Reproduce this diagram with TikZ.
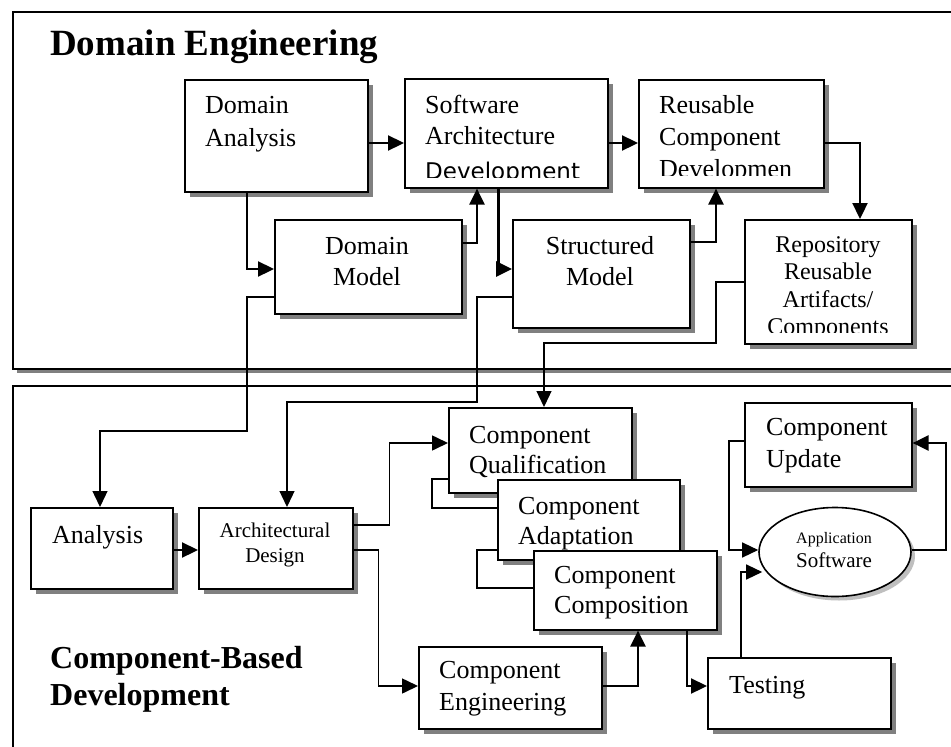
\documentclass[tikz,border=0pt]{standalone}
\usepackage{fontspec}
\setmainfont{Liberation Serif}
\newfontfamily\dejavu{DejaVu Sans}
\usetikzlibrary{arrows.meta,shadows,shapes.geometric}
\newcommand\myfs[1]{\fontsize{#1}{#1}\selectfont}
\tikzset{
  box/.style={draw, line width=1.6pt, fill=white, inner sep=0pt, anchor=north west,
    drop shadow={shadow xshift=5pt, shadow yshift=-5pt, fill=black!50, opacity=1}},
  outer/.style={draw, line width=1.8pt, fill=white, inner sep=0pt, anchor=north west,
    drop shadow={shadow xshift=4pt, shadow yshift=-4pt, fill=black!50, opacity=1}},
  tl/.style={inner sep=0pt, anchor=base west, font=\myfs{26}},
  tc/.style={inner sep=0pt, anchor=base, font=\myfs{26}},
  arr/.style={-{Triangle[length=16pt,width=15pt]}},
  thk/.style={line width=2.3pt},
  med/.style={line width=1.6pt},
  thn/.style={line width=1.3pt},
}
\begin{document}
\begin{tikzpicture}[x=1pt,y=-1pt]
\useasboundingbox (0,0) rectangle (951,747);
\fill[white] (0,0) rectangle (951,747);
\clip (0,0) rectangle (951,747);

% outer frames
\node[outer, minimum width=980pt, minimum height=357pt] (topf) at (12,11) {};
\node[outer, minimum width=980pt, minimum height=400pt] (botf) at (12,385) {};

\node[inner sep=0pt, anchor=base west, font=\myfs{37}\bfseries] (ttl1) at (50,55) {Domain Engineering};
\node[inner sep=0pt, anchor=base west, font=\myfs{32}\bfseries] (ttl2) at (50,668) {Component-Based};
\node[inner sep=0pt, anchor=base west, font=\myfs{32}\bfseries] (ttl3) at (50,705) {Development};

% ---- Domain engineering boxes
\node[box, minimum width=183pt, minimum height=112pt] (da) at (184,79) {};
\node[tl] (da1) at (205,113) {Domain};
\node[tl] (da2) at (205,146) {Analysis};

\node[box, minimum width=203pt, minimum height=109pt] (sad) at (404,78) {};
\node[tl] (sad1) at (425,113) {Software};
\node[tl] (sad2) at (425,144) {Architecture};
\begin{scope}
\clip (410,150) rectangle (600,177);
\node[inner sep=0pt, anchor=base west, font=\dejavu\myfs{23}] (sad3) at (425,179) {Development};
\end{scope}

\node[box, minimum width=185pt, minimum height=108pt] (rcd) at (638,79) {};
\node[tl] (rcd1) at (659,113) {Reusable};
\node[tl] (rcd2) at (659,145) {Component};
\begin{scope}
\clip (645,150) rectangle (815,175.5);
\node[tl] (rcd3) at (659,177) {Developmen};
\end{scope}

\node[box, minimum width=187pt, minimum height=94pt] (dm) at (274,219) {};
\node[tc] (dm1) at (367,254) {Domain};
\node[tc] (dm2) at (367,285) {Model};

\node[box, minimum width=177pt, minimum height=108pt] (sm) at (512,219) {};
\node[tc] (sm1) at (600,254) {Structured};
\node[tc] (sm2) at (600,285) {Model};

\node[box, minimum width=167pt, minimum height=124pt] (rep) at (744,219) {};
\node[tc, font=\myfs{24}] (rep1) at (828,252) {Repository};
\node[tc, font=\myfs{24}] (rep2) at (828,279) {Reusable};
\node[tc, font=\myfs{24}] (rep3) at (828,307) {Artifacts/};
\begin{scope}
\clip (750,310) rectangle (905,332);
\node[tc, font=\myfs{24}] (rep4) at (828,334) {Components};
\end{scope}

% ---- Component-based development boxes
\node[box, minimum width=142pt, minimum height=81pt] (an) at (30,507) {};
\node[tl] (an1) at (52,543) {Analysis};

\node[box, minimum width=154pt, minimum height=81pt] (ad) at (198,507) {};
\node[tc, font=\myfs{21}] (ad1) at (275,537) {Architectural};
\node[tc, font=\myfs{21}] (ad2) at (275,562) {Design};

\node[box, minimum width=183pt, minimum height=85pt] (cq) at (448,407) {};
\node[tl] (cq1) at (469,443) {Component};
\node[tl] (cq2) at (469,473) {Qualification};

\node[box, minimum width=182pt, minimum height=80pt] (ca) at (497,479) {};
\node[tl] (ca1) at (518,514) {Component};
\node[tl] (ca2) at (518,544) {Adaptation};

\node[box, minimum width=183pt, minimum height=79pt] (cc) at (533,550) {};
\node[tl] (cc1) at (554,583) {Component};
\node[tl] (cc2) at (554,613) {Composition};

\node[box, minimum width=183pt, minimum height=82pt] (ce) at (418,646) {};
\node[tl] (ce1) at (439,678) {Component};
\node[tl] (ce2) at (439,710) {Engineering};

\node[box, minimum width=183pt, minimum height=71pt] (te) at (707,657) {};
\node[tl] (te1) at (729,693) {Testing};

\node[box, minimum width=167pt, minimum height=84pt] (cu) at (744,402) {};
\node[tl] (cu1) at (766,435) {Component};
\node[tl] (cu2) at (766,467) {Update};

\node[ellipse, draw, line width=1.6pt, fill=white, inner sep=0pt,
  minimum width=152pt, minimum height=89pt,
  drop shadow={shadow xshift=4pt, shadow yshift=-4pt, fill=black!25, opacity=1}] (app) at (835,552) {};
\node[tc, font=\myfs{16}] (app1) at (834,543) {Application};
\node[tc, font=\myfs{21}] (app2) at (834,567) {Software};

% ---- connectors (domain engineering)
\draw[thk,arr] (da.east |- 0,143) -- (sad.west |- 0,143);
\draw[thk,arr] (da.south -| 247,0) |- (dm.west |- 0,269);
\draw[thk,arr] (dm.east |- 0,243) -| (sad.south -| 477,0);
\draw[line width=3pt,arr] (sad.south -| 498,0) |- (sm.west |- 0,269);
\draw[thk,arr] (sad.east |- 0,143) -- (rcd.west |- 0,143);
\draw[thk,arr] (sm.east |- 0,242) -| (rcd.south -| 716,0);
\draw[thk,arr] (rcd.east |- 0,143) -| (rep.north -| 860,0);

% ---- links between the two parts
\draw[thn,arr] (dm.west |- 0,297) -| (247,431) -| (an.north -| 100,0);
\draw[thn,arr] (sm.west |- 0,297) -| (477,402) -| (ad.north -| 287,0);
\draw[thn,arr] (rep.west |- 0,282) -| (716,343) -| (cq.north -| 544,0);

% ---- connectors (component-based development)
\draw[thk,arr] (an.east |- 0,550) -- (ad.west |- 0,550);
\draw[med,arr] (ad.east |- 0,525) -- ++(36,0) |- (cq.west |- 0,443);
\draw[med,arr] (ad.east |- 0,550) -- ++(25,0) |- (ce.west |- 0,686);
\draw[thk,arr] (ce.east |- 0,686) -| (cc.south -| 638,0);
\draw[thk,arr] (cc.south -| 687,0) |- (te.west |- 0,686);
\draw[thn,arr,shorten >=-4pt] (te.north -| 741,0) |- (app.west |- 0,572);
\draw[thn,arr] (cu.west |- 0,441) -- ++(-15,0) |- (app.west |- 0,550);
\draw[thk,arr] (app.east |- 0,550) -- ++(34,0) |- (cu.east |- 0,443);
\draw[thn] (cq.west |- 0,479) -| (432,508) -- (ca.west |- 0,508);
\draw[thn] (ca.west |- 0,550) -| (477,588) -- (cc.west |- 0,588);
\end{tikzpicture}
\end{document}
